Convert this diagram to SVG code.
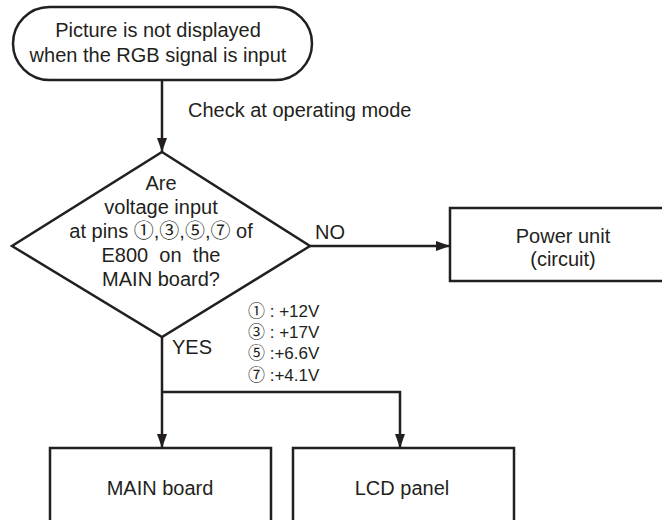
<svg xmlns="http://www.w3.org/2000/svg" width="662" height="520" viewBox="0 0 662 520">
<style>
.s{fill:#fff;stroke:#231f20;stroke-width:2.5}
.c{fill:none;stroke:#231f20;stroke-width:2.5}
text{font-family:"Liberation Sans",Arial,"Noto Sans CJK JP",sans-serif;fill:#231f20;font-size:20px}
.m{text-anchor:middle}
.sm{font-size:17px}
</style>
<defs>
<marker id="ah" markerWidth="14" markerHeight="10" refX="14" refY="5" orient="auto" markerUnits="userSpaceOnUse">
<path d="M0,0 L14,5 L0,10 Z" fill="#231f20"/>
</marker>
</defs>
<g id="connectors">
<line class="c" x1="162" y1="80" x2="162" y2="152" marker-end="url(#ah)"/>
<line class="c" x1="310" y1="246" x2="450" y2="246" marker-end="url(#ah)"/>
<line class="c" x1="162" y1="337" x2="162" y2="448" marker-end="url(#ah)"/>
<polyline class="c" points="162,392 400,392 400,448" marker-end="url(#ah)"/>
<text x="188" y="117">Check at operating mode</text>
<text x="315" y="239">NO</text>
<text x="172" y="354">YES</text>
<text class="sm" x="248" y="317">① : +12V</text>
<text class="sm" x="248" y="338">③ : +17V</text>
<text class="sm" x="248" y="359">⑤ :+6.6V</text>
<text class="sm" x="248" y="381">⑦ :+4.1V</text>
</g>
<g id="start">
<rect class="s" x="13" y="7" width="299" height="73" rx="36.5" ry="36.5"/>
<text class="m" x="158" y="37">Picture is not displayed</text>
<text class="m" x="158" y="62">when the RGB signal is input</text>
</g>
<g id="decision">
<polygon class="s" points="162,152 310,246 162,337 12,246"/>
<text class="m" x="161" y="190">Are</text>
<text class="m" x="161" y="214">voltage input</text>
<text class="m" x="161" y="238">at pins ①,③,⑤,⑦ of</text>
<text class="m" x="161" y="262" xml:space="preserve">E800  on  the</text>
<text class="m" x="161" y="286">MAIN board?</text>
</g>
<g id="power">
<rect class="s" x="450" y="208" width="226" height="73"/>
<text class="m" x="563" y="243">Power unit</text>
<text class="m" x="563" y="266">(circuit)</text>
</g>
<g id="main">
<rect class="s" x="50" y="448" width="221" height="90"/>
<text class="m" x="160" y="495">MAIN board</text>
</g>
<g id="lcd">
<rect class="s" x="293" y="448" width="221" height="90"/>
<text class="m" x="402" y="495">LCD panel</text>
</g>
</svg>
